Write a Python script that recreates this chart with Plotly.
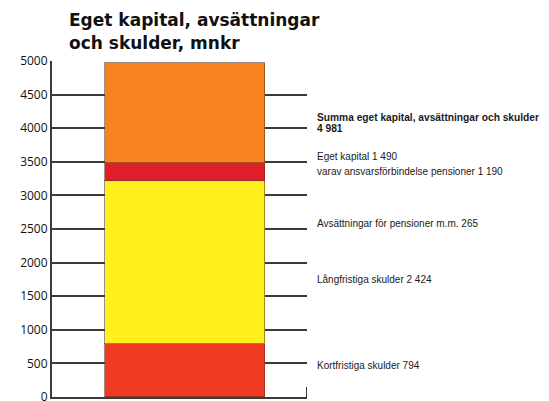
import plotly.graph_objects as go

# Data (mnkr), bottom to top
segments = ["Kortfristiga skulder", "Långfristiga skulder", "Avsättningar för pensioner m.m.", "Eget kapital"]
values = [794, 2424, 265, 1490]
colors = ["#F03A22", "#FFF01E", "#E01E2A", "#F7821F"]
y_ticks = [0, 500, 1000, 1500, 2000, 2500, 3000, 3500, 4000, 4500, 5000]

title_lines = ["Eget kapital, avsättningar", "och skulder, mnkr"]
label_texts = [
    "Summa eget kapital, avsättningar och skulder",
    "4 981",
    "Eget kapital 1 490",
    "varav ansvarsförbindelse pensioner 1 190",
    "Avsättningar för pensioner m.m. 265",
    "Långfristiga skulder 2 424",
    "Kortfristiga skulder 794",
]
label_bold = [True, True, False, False, False, False, False]

fig = go.Figure()
for name, v, c in zip(segments, values, colors):
    fig.add_trace(go.Bar(
        x=[0.522], y=[v], width=0.627, name=name,
        marker=dict(color=c, line=dict(color="rgba(90,50,30,0.55)", width=1)),
        showlegend=False, hoverinfo="skip",
    ))

# label vertical positions relative to the plot area (pixel rows), converted to axis units
label_rows = [56, 67, 95, 110, 162, 218, 304]
plot_h = 336
def row_to_y(r):
    return (plot_h - r) / plot_h * 5000

for t, b, r in zip(label_texts, label_bold, label_rows):
    fig.add_annotation(
        text=f"<b>{t}</b>" if b else t,
        xref="paper", x=1.032, xanchor="left",
        yref="y", y=row_to_y(r), yanchor="middle",
        showarrow=False,
        font=dict(family="Liberation Sans, Arial, sans-serif", size=10.2 if b else 10, color="#1a1a1a"),
    )

# title (two lines placed separately)
for line, yp in zip(title_lines, [1.121, 1.053]):
    fig.add_annotation(
        text=f"<b>{line}</b>", xref="paper", x=0.058, xanchor="left",
        yref="paper", y=yp, yanchor="middle", align="left", showarrow=False,
        font=dict(family="DejaVu Sans, Liberation Sans, sans-serif", size=17, color="#111"),
    )

# small upward tick at the right end of the baseline
fig.add_shape(type="line", xref="x", yref="y", x0=1, x1=1, y0=0, y1=150,
              line=dict(color="#3a3a3a", width=2))

fig.update_layout(
    width=541, height=393,
    margin=dict(l=44, r=242, t=53, b=4, autoexpand=False),
    paper_bgcolor="white", plot_bgcolor="white",
    barmode="stack", bargap=0,
    xaxis=dict(range=[0, 1], showticklabels=False, showgrid=False, zeroline=False,
               showline=True, linecolor="#3a3a3a", linewidth=2, ticks="", automargin=False),
    yaxis=dict(range=[0, 5000], tickvals=y_ticks, ticktext=[str(v) for v in y_ticks],
               showgrid=True, gridcolor="#3a3a3a", gridwidth=1.8, zeroline=False,
               showline=True, linecolor="#3a3a3a", linewidth=2, ticks="", automargin=False,
               ticklabeloverflow="allow",
               tickfont=dict(family="Open Sans, Liberation Sans, sans-serif", size=12, color="#111")),
)

fig.write_html("out.html")
